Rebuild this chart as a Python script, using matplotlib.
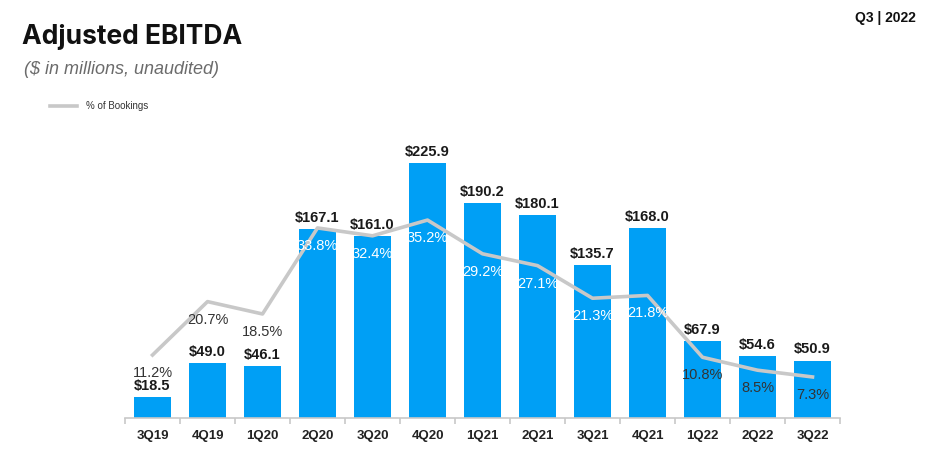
import matplotlib
matplotlib.use("Agg")
import matplotlib.pyplot as plt

quarters = ["3Q19", "4Q19", "1Q20", "2Q20", "3Q20", "4Q20", "1Q21",
            "2Q21", "3Q21", "4Q21", "1Q22", "2Q22", "3Q22"]
ebitda = [18.5, 49.0, 46.1, 167.1, 161.0, 225.9, 190.2,
          180.1, 135.7, 168.0, 67.9, 54.6, 50.9]
pct_bookings = [11.2, 20.7, 18.5, 33.8, 32.4, 35.2, 29.2,
                27.1, 21.3, 21.8, 10.8, 8.5, 7.3]

blue = "#009ff5"
grey_line = "#c8c8c8"

fig = plt.figure(figsize=(9.35, 4.54), dpi=100)
ax = fig.add_axes([0.1337, 0.0793, 0.7647, 0.6465])
x = range(len(quarters))
ax.bar(x, ebitda, width=0.69, color=blue, zorder=2)
ax.set_xlim(-0.5, len(quarters) - 0.5)
ax.set_ylim(0, 260)

for i, v in enumerate(ebitda):
    ax.annotate("$%.1f" % v, (i, v), xytext=(0, 3), textcoords="offset points",
                ha="center", va="bottom", fontsize=10.5, fontweight="bold",
                color="#1a1a1a", family="Liberation Sans")

ax2 = ax.twinx()
ax2.set_ylim(0, 52.2)
ax2.plot(x, pct_bookings, color=grey_line, lw=2.6, zorder=3)
for i, p in enumerate(pct_bookings):
    col = "#333333" if ebitda[i] < 100 else "white"
    ax2.annotate("%.1f%%" % p, (i, p), xytext=(0, -13), textcoords="offset points",
                 ha="center", va="center", fontsize=10.5, color=col,
                 family="Liberation Sans", zorder=5)

for a in (ax, ax2):
    for s in ["top", "right", "left"]:
        a.spines[s].set_visible(False)
    a.set_yticks([])
ax2.spines["bottom"].set_visible(False)
ax.spines["bottom"].set_color("#c8c8c8")
ax.spines["bottom"].set_linewidth(1.2)

ax.set_xticks([i - 0.5 for i in range(len(quarters) + 1)], minor=False)
ax.set_xticklabels([])
ax.tick_params(axis="x", which="major", length=4, color="#c8c8c8", width=1.2)
ax.set_xticks(list(x), minor=True)
ax.set_xticklabels(quarters, minor=True, fontsize=9.5, fontweight="bold",
                   color="#222222", family="Liberation Sans")
ax.tick_params(axis="x", which="minor", length=0, pad=9)

fig.text(0.0235, 0.918, "Adjusted EBITDA", fontsize=19, fontweight="bold",
         family="Inter", color="#111111", va="center")
fig.text(0.026, 0.848, "($ in millions, unaudited)", fontsize=13, style="italic",
         family="Liberation Sans", color="#6b6b6b", va="center")
fig.text(0.979, 0.96, "Q3 | 2022", fontsize=10, fontweight="bold",
         family="Liberation Sans", color="#111111", ha="right", va="center")

fig.lines.append(plt.Line2D([50 / 935, 77 / 935], [1 - 106 / 454, 1 - 106 / 454],
                            transform=fig.transFigure, color=grey_line, lw=2.6))
fig.text(86 / 935, 1 - 106 / 454, "% of Bookings", fontsize=7,
         family="Liberation Sans", color="#333333", va="center")

fig.savefig("out.png", dpi=100)
